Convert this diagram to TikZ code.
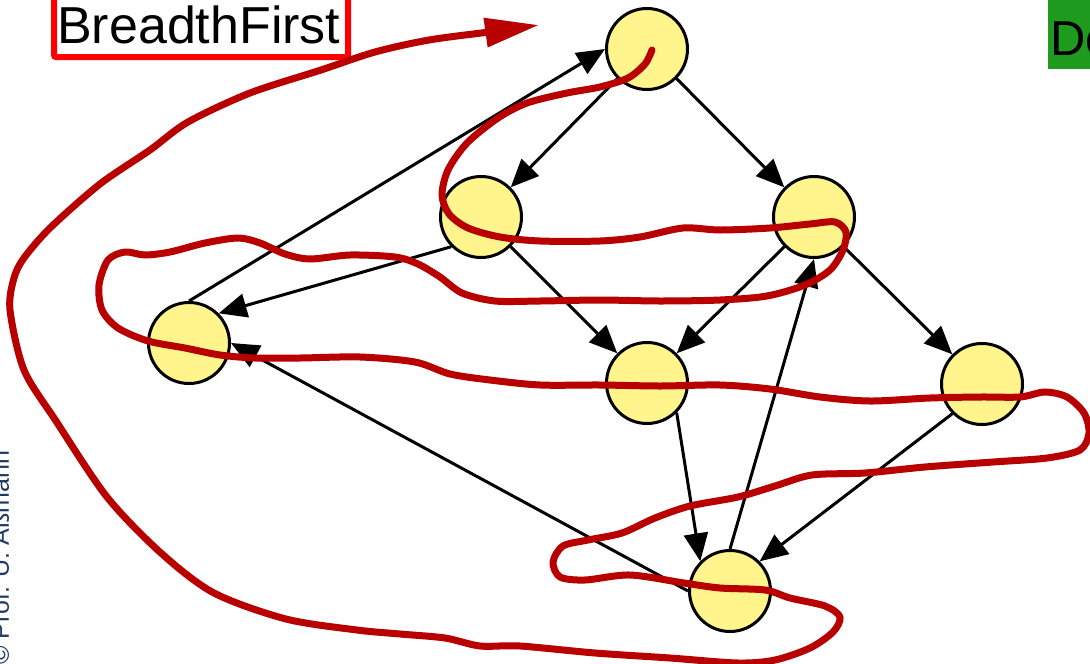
\documentclass[tikz,border=0pt]{standalone}
\usepackage{fontspec}
\setmainfont{Liberation Sans}
\usetikzlibrary{arrows.meta}
\definecolor{nodefill}{RGB}{255,245,140}
\definecolor{pathred}{RGB}{185,0,0}
\definecolor{boxgreen}{RGB}{30,155,30}
\definecolor{navyblue}{RGB}{31,56,100}
\begin{document}
\begin{tikzpicture}[x=1pt,y=-1pt,
  vtx/.style={circle,draw=black,line width=3pt,fill=nodefill,minimum size=81pt,inner sep=0pt},
  edge/.style={line width=3pt,draw=black,-{Triangle[length=28pt,width=24pt]}},
  tour/.style={line width=7pt,draw=pathred,line cap=round,line join=round,-{Triangle[length=54pt,width=28pt]}},
  titlebox/.style={draw=red,line width=6pt,rounded corners=2pt},
  titletext/.style={inner sep=0pt,anchor=base west,font=\fontsize{52}{60}\selectfont}]
\useasboundingbox (0,0) rectangle (1090,664);
% title boxes
\draw[titlebox] (54,-10) rectangle (348,57);
\node[titletext] (title) at (57,43) {BreadthFirst};
\fill[boxgreen] (1048,-2) rectangle (1096,69);
\node[titletext,font=\fontsize{49}{58}\selectfont] (other) at (1050,55) {De};
% copyright
\node[rotate=90,anchor=base west,inner sep=0pt,text=navyblue,font=\fontsize{25}{30}\selectfont] (copy) at (9,665) {© Prof. U. Aßmann};
% vertices
\node[vtx] (A) at (647,49) {};
\node[vtx] (B) at (481,217) {};
\node[vtx] (C) at (814,217) {};
\node[vtx] (D) at (189,343) {};
\node[vtx] (E) at (647,383) {};
\node[vtx] (F) at (982,384) {};
\node[vtx] (G) at (730,591) {};
% edges
\draw[edge] (A.south west) -- (B.north east);
\draw[edge] (A.south east) -- (C.north west);
\draw[edge] (D.north) -- (A.west);
\draw[edge] (B.south west) -- (D.north east);
\draw[edge] (B.south east) -- (E.north west);
\draw[edge] (C.south west) -- (E.north east);
\draw[edge] (C.south east) -- (F.north west);
\draw[edge] (E.south east) -- (G.north west);
\draw[edge] (G.north) -- (C.south);
\draw[edge] (F.south west) -- (G.north east);
\draw[edge] (G.west) -- (D.east);
% traversal curve
\draw[tour] plot[smooth,tension=0.5] coordinates {
(652,50) (645,64) (628,78) (600,87) (567,93) (527,103) (498,118) (467,143) (448,170) (442,195) (449,214) (468,228) (500,237) (540,241) (600,241) (640,237) (683,228) (720,230) (770,228) (810,224) (835,222) (846,232) (843,250) (830,270) (805,285) (767,296) (720,300) (660,301) (600,300) (540,301) (495,301) (462,293) (440,277) (418,264) (395,257) (350,255) (310,259) (285,254) (260,243) (238,238) (205,243) (170,252) (145,255) (125,252) (108,260) (99,285) (102,310) (118,328) (148,341) (185,348) (220,355) (255,358) (300,358) (360,357) (415,362) (450,374) (490,380) (540,385) (600,385) (660,386) (720,385) (770,389) (820,397) (870,401) (930,398) (980,397) (1020,397) (1045,392) (1067,397) (1084,413) (1089,433) (1080,450) (1047,458) (993,462) (925,467) (865,473) (812,475) (775,486) (738,497) (690,506) (655,518) (622,533) (588,540) (563,546) (553,562) (560,577) (585,580) (630,575) (684,583) (720,588) (765,590) (790,598) (825,606) (840,617) (833,632) (810,648) (775,660) (738,663) (670,658) (595,653) (520,646) (480,646) (445,638) (400,634) (357,630) (286,619) (214,593) (161,553) (107,497) (56,421) (24,370) (10,310) (14,278) (24,258) (50,228) (100,184) (150,150) (188,122) (250,93) (321,70) (375,52) (429,40) (489,32) (539,25)};
\end{tikzpicture}
\end{document}
